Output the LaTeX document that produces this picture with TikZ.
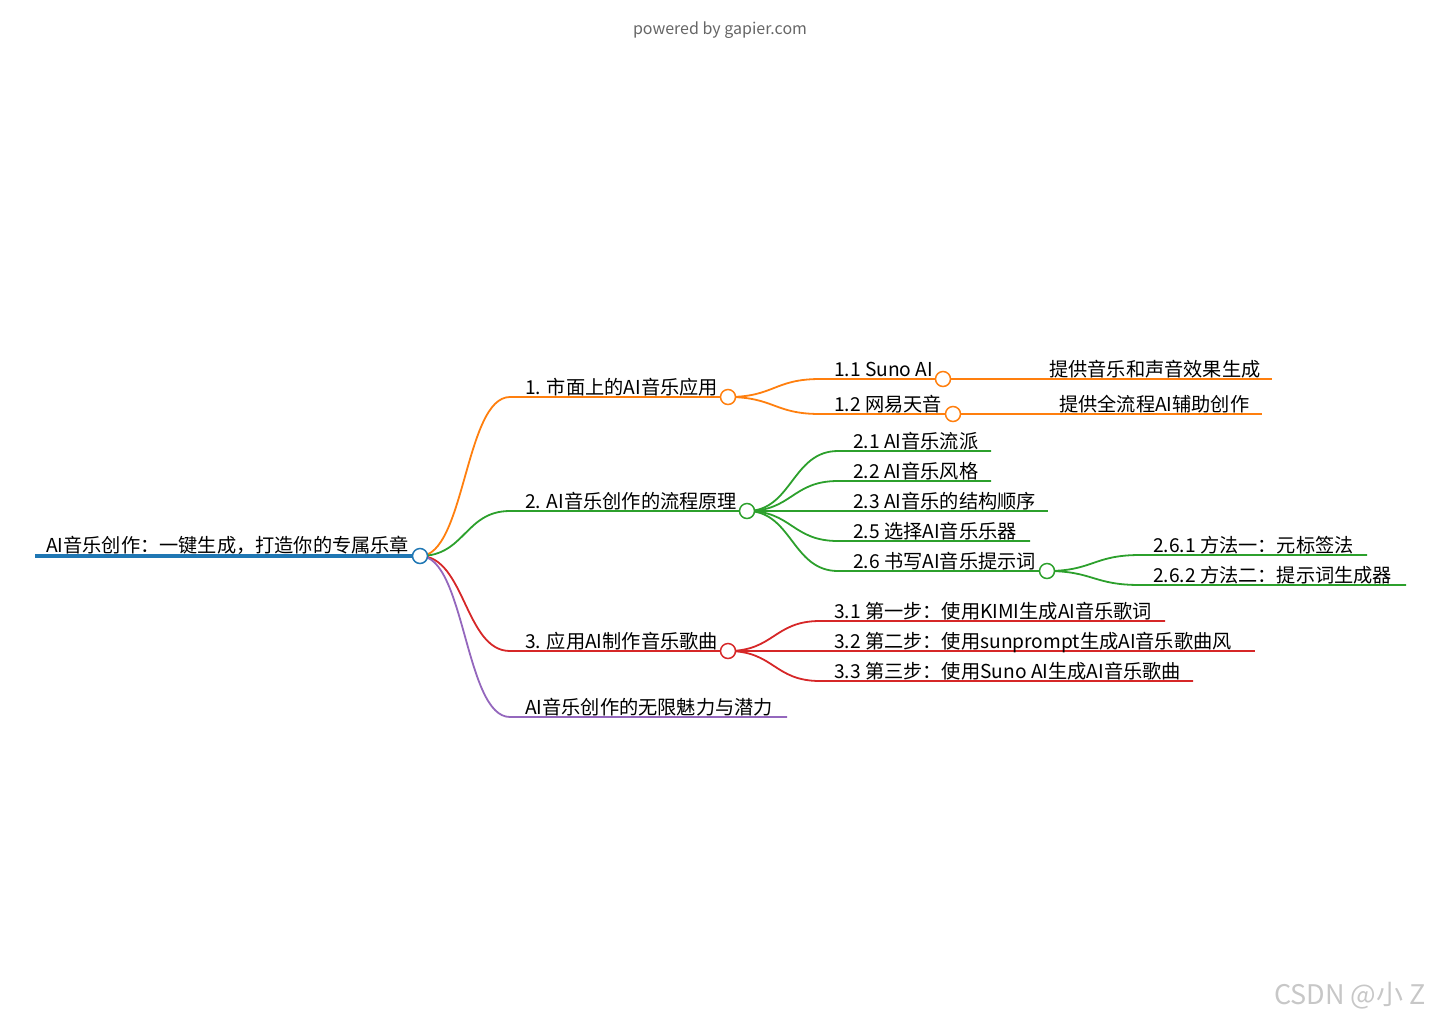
\documentclass[tikz,border=0pt]{standalone}
\usepackage{fontspec}
\setmainfont{Noto Sans CJK SC}
\definecolor{cblue}{HTML}{1F77B4}
\definecolor{corange}{HTML}{FF7F0E}
\definecolor{cgreen}{HTML}{2CA02C}
\definecolor{cred}{HTML}{D62728}
\definecolor{cpurple}{HTML}{9467BD}
\tikzset{
  lbl/.style={anchor=base west, inner sep=0pt, font=\fontsize{19.2}{19.2}\selectfont},
  ring/.style={circle, draw, fill=white, line width=1.5pt, minimum size=15pt, inner sep=0pt},
  br/.style={line width=1.8pt},
}
\begin{document}
\begin{tikzpicture}[x=1pt,y=-1pt]
\useasboundingbox (0,0) rectangle (1440,1021);
\node[font=\fontsize{16}{16}\selectfont, text=black!60] (hdr) at (720,30) {powered by gapier.com};
\node[font=\fontsize{27}{27}\selectfont, text=black!22] (wm) at (1350,996) {CSDN @小 Z};

% coordinates
\coordinate (r0) at (35,556);
\coordinate (r) at (420,556);
\coordinate (b1s) at (510,397); \coordinate (b1) at (728,397);
\coordinate (b2s) at (510,511); \coordinate (b2) at (747,511);
\coordinate (b3s) at (510,651); \coordinate (b3) at (728,651);
\coordinate (b4s) at (510,717); \coordinate (b4e) at (787,717);
% branch 1
\coordinate (n11s) at (820,379); \coordinate (n11) at (943,379);
\coordinate (n12s) at (820,414); \coordinate (n12) at (953,414);
\coordinate (n111s) at (1035,379); \coordinate (n111e) at (1272,379);
\coordinate (n121s) at (1045,414); \coordinate (n121e) at (1262,414);
% branch 2
\coordinate (n21s) at (838,451); \coordinate (n21e) at (991,451);
\coordinate (n22s) at (838,481); \coordinate (n22e) at (991,481);
\coordinate (n23s) at (838,511); \coordinate (n23e) at (1048,511);
\coordinate (n25s) at (838,541); \coordinate (n25e) at (1030,541);
\coordinate (n26s) at (838,571); \coordinate (n26) at (1047,571);
\coordinate (n261s) at (1140,555); \coordinate (n261e) at (1367,555);
\coordinate (n262s) at (1140,585); \coordinate (n262e) at (1406,585);
% branch 3
\coordinate (n31s) at (820,621); \coordinate (n31e) at (1165,621);
\coordinate (n32s) at (820,651); \coordinate (n32e) at (1255,651);
\coordinate (n33s) at (820,681); \coordinate (n33e) at (1193,681);

% root line
\draw[cblue, line width=4.5pt] (r0) -- (r);

% branch 1
\draw[corange, br] (r) .. controls (465,556) and (465,397) .. (b1s) -- (b1);
\draw[corange, br] (b1) .. controls (774,397) and (774,379) .. (n11s) -- (n11);
\draw[corange, br] (b1) .. controls (774,397) and (774,414) .. (n12s) -- (n12);
\draw[corange, br] (n11) -- (n111s) -- (n111e);
\draw[corange, br] (n12) -- (n121s) -- (n121e);

% branch 2
\draw[cgreen, br] (r) .. controls (465,556) and (465,511) .. (b2s) -- (b2);
\draw[cgreen, br] (b2) .. controls (792,511) and (792,451) .. (n21s) -- (n21e);
\draw[cgreen, br] (b2) .. controls (792,511) and (792,481) .. (n22s) -- (n22e);
\draw[cgreen, br] (b2) -- (n23s) -- (n23e);
\draw[cgreen, br] (b2) .. controls (792,511) and (792,541) .. (n25s) -- (n25e);
\draw[cgreen, br] (b2) .. controls (792,511) and (792,571) .. (n26s) -- (n26);
\draw[cgreen, br] (n26) .. controls (1093,571) and (1093,555) .. (n261s) -- (n261e);
\draw[cgreen, br] (n26) .. controls (1093,571) and (1093,585) .. (n262s) -- (n262e);

% branch 3
\draw[cred, br] (r) .. controls (465,556) and (465,651) .. (b3s) -- (b3);
\draw[cred, br] (b3) .. controls (774,651) and (774,621) .. (n31s) -- (n31e);
\draw[cred, br] (b3) -- (n32s) -- (n32e);
\draw[cred, br] (b3) .. controls (774,651) and (774,681) .. (n33s) -- (n33e);

% branch 4
\draw[cpurple, br] (r) .. controls (465,556) and (465,717) .. (b4s) -- (b4e);

% rings
\node[ring, draw=cblue] (rc) at (r) {};
\node[ring, draw=corange] (b1c) at (b1) {};
\node[ring, draw=corange] (n11c) at (n11) {};
\node[ring, draw=corange] (n12c) at (n12) {};
\node[ring, draw=cgreen] (b2c) at (b2) {};
\node[ring, draw=cgreen] (n26c) at (n26) {};
\node[ring, draw=cred] (b3c) at (b3) {};

% labels
\node[lbl] (t0) at (46,552) {AI音乐创作：一键生成，打造你的专属乐章};
\node[lbl] (t1) at (525,394) {1. 市面上的AI音乐应用};
\node[lbl] (t11) at (834,376) {1.1 Suno AI};
\node[lbl] (t12) at (834,411) {1.2 网易天音};
\node[lbl] (t111) at (1049,376) {提供音乐和声音效果生成};
\node[lbl] (t121) at (1059,411) {提供全流程AI辅助创作};
\node[lbl] (t2) at (525,508) {2. AI音乐创作的流程原理};
\node[lbl] (t21) at (853,448) {2.1 AI音乐流派};
\node[lbl] (t22) at (853,478) {2.2 AI音乐风格};
\node[lbl] (t23) at (853,508) {2.3 AI音乐的结构顺序};
\node[lbl] (t25) at (853,538) {2.5 选择AI音乐乐器};
\node[lbl] (t26) at (853,568) {2.6 书写AI音乐提示词};
\node[lbl] (t261) at (1153,552) {2.6.1 方法一：元标签法};
\node[lbl] (t262) at (1153,582) {2.6.2 方法二：提示词生成器};
\node[lbl] (t3) at (525,648) {3. 应用AI制作音乐歌曲};
\node[lbl] (t31) at (834,618) {3.1 第一步：使用KIMI生成AI音乐歌词};
\node[lbl] (t32) at (834,648) {3.2 第二步：使用sunprompt生成AI音乐歌曲风};
\node[lbl] (t33) at (834,678) {3.3 第三步：使用Suno AI生成AI音乐歌曲};
\node[lbl] (t4) at (525,714) {AI音乐创作的无限魅力与潜力};
\end{tikzpicture}
\end{document}
